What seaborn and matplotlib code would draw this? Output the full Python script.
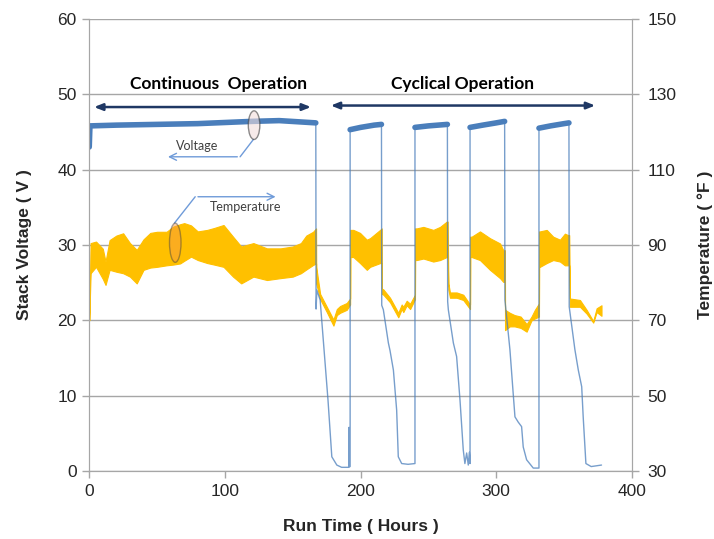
import matplotlib
matplotlib.use("Agg")
import matplotlib.pyplot as plt
from matplotlib.patches import Ellipse
import seaborn as sns
import numpy as np
import pandas as pd

# stack voltage trace (hours, volts)
volt_t = [0, 0.5, 20, 50, 80, 120, 140, 167.0,
          167.2, 167.8, 170.2, 176.0, 178.8, 182.5, 186.0, 191.4, 191.5, 191.6, 192.3,
          192.3, 200, 210, 215.4,
          215.6, 216.8, 220.5, 221.7, 224.2, 226.6, 227.8, 230.3, 235.0, 240.1,
          240.1, 250, 264.0,
          264.2, 264.7, 268.4, 270.8, 273.3, 275.7, 276.9, 278.2, 279.4, 280.2, 280.7,
          280.7, 290, 300, 306.2,
          306.4, 310.1, 312.5, 313.8, 316.2, 318.7, 319.9, 322.4, 327.3, 331.5,
          331.5, 340, 350, 353.6,
          353.8, 358.0, 360.5, 363.0, 364.1, 366.1, 370.0, 377.6]
volt_v = [43.0, 45.8, 45.9, 46.0, 46.1, 46.4, 46.5, 46.2,
          21.5, 24.0, 22.7, 9.4, 1.9, 0.8, 0.5, 0.5, 5.8, 0.6, 0.6,
          45.3, 45.6, 45.9, 46.0,
          22.0, 21.4, 17.0, 16.0, 13.4, 8.1, 1.9, 1.0, 0.9, 1.0,
          45.6, 45.8, 46.0,
          22.5, 21.4, 17.0, 15.2, 9.4, 2.8, 1.0, 2.4, 0.8, 2.5, 1.0,
          45.6, 45.9, 46.2, 46.4,
          22.7, 16.1, 10.3, 7.2, 6.5, 5.9, 3.2, 1.5, 0.4, 0.4,
          45.5, 45.8, 46.1, 46.2,
          21.8, 16.1, 13.4, 11.2, 7.2, 1.0, 0.6, 0.8]

# temperature envelope (hours, deg F low / high)
temp_t = [0, 1, 5, 10, 12, 15, 20, 25, 30, 35, 40, 45, 50, 57, 62, 67, 70, 75, 80, 87,
          92, 99, 106, 112, 121, 131, 141, 150, 156, 160, 165, 167.2,
          167.3, 170.2, 175.1, 180.0, 182.5, 184.9, 189.8, 192.3,
          192.4, 194.7, 199.6, 204.6, 207.0, 214.4, 215.6,
          215.7, 216.8, 221.7, 227.8, 230.3, 231.5, 234.0, 236.5, 240.1,
          240.2, 241.4, 246.3, 253.6, 258.6, 263.5, 264.2,
          264.7, 265.9, 270.8, 275.7, 280.7,
          280.8, 281.9, 288.0, 295.4, 302.8, 305.2, 306.4,
          306.5, 310.0, 313.5, 318.0, 322.4, 326.0, 328.5, 331.5,
          331.6, 332.2, 337.2, 342.0, 347.0, 350.6, 353.1, 353.8,
          354.3, 361.7, 366.6, 371.5, 374.0, 377.6]
temp_lo = [70, 82.5, 84.2, 81.0, 79.4, 83.4, 82.9, 82.5, 81.6, 79.8, 83.4, 84.0, 84.2, 84.6,
           84.8, 85.1, 85.8, 86.9, 86.0, 85.2, 84.8, 84.2, 81.6, 79.8, 81.6, 80.7, 81.2,
           81.6, 82.5, 83.5, 84.7, 85.1,
           79.8, 75.6, 72.2, 68.6, 71.4, 72.0, 72.8, 74.2,
           86.8, 86.8, 85.2, 83.4, 84.2, 85.2, 85.2,
           77.0, 76.8, 74.8, 70.8, 73.0, 72.2, 74.0, 73.0, 75.6,
           86.0, 86.0, 86.4, 85.6, 86.0, 86.8, 86.8,
           78.2, 76.0, 76.0, 75.4, 73.0,
           86.8, 86.8, 86.0, 83.4, 81.2, 80.2, 80.2,
           67.4, 68.4, 68.4, 68.0, 67.0, 70.0, 70.5, 71.0,
           84.2, 84.2, 85.2, 86.0, 85.6, 84.6, 84.6, 84.6,
           73.6, 73.6, 71.8, 69.4, 72.2, 71.2]
temp_hi = [70, 90.5, 90.9, 89.0, 85.6, 91.3, 92.5, 93.1, 90.5, 88.7, 91.5, 93.2, 93.5, 93.5,
           94.9, 95.5, 95.8, 95.2, 93.6, 94.0, 94.5, 95.3, 92.2, 89.6, 90.5, 89.1, 89.1,
           89.6, 90.5, 92.5, 93.5, 94.4,
           84.2, 77.0, 73.6, 70.2, 73.0, 73.8, 74.6, 75.8,
           94.0, 94.0, 93.2, 91.4, 91.8, 94.0, 94.4,
           78.4, 78.2, 76.0, 72.0, 74.2, 73.6, 75.2, 74.4, 76.8,
           94.4, 94.4, 94.8, 94.0, 94.8, 96.2, 96.2,
           79.8, 77.4, 77.4, 76.8, 74.2,
           92.2, 92.2, 93.6, 91.8, 90.4, 88.6, 88.6,
           72.8, 72.0, 71.4, 71.0, 69.0, 71.0, 72.8, 74.5,
           93.6, 93.6, 94.0, 92.2, 91.4, 93.0, 92.6, 92.6,
           75.8, 75.4, 72.8, 69.8, 73.2, 74.0]

x_ticks = [0, 100, 200, 300, 400]
volt_ticks = [0, 10, 20, 30, 40, 50, 60]
temp_ticks = [30, 50, 70, 90, 110, 130, 150]

BLUE = "#4a7ebb"
GOLD = "#ffc000"
NAVY = "#1f3864"
ARROW = "#6f9bd9"
GRID = "#a6a6a6"
TXT = "#262626"

sns.set_style("white")
plt.rcParams["font.family"] = ["Liberation Sans", "DejaVu Sans"]

df = pd.DataFrame({"hours": volt_t, "volts": volt_v})
df["plateau"] = df["volts"] > 40
df["seg"] = (df["plateau"] != df["plateau"].shift()).cumsum()

fig, ax1 = plt.subplots(figsize=(7.14, 5.39), dpi=100)
fig.subplots_adjust(left=0.125, right=0.885, top=0.965, bottom=0.126)
ax2 = ax1.twinx()
ax1.set_zorder(2)
ax2.set_zorder(1)
ax1.patch.set_visible(False)

# temperature band on the right axis
ax2.fill_between(temp_t, temp_lo, temp_hi, color=GOLD, linewidth=0.8, edgecolor=GOLD)
ax2.set_ylim(30, 150)
ax2.set_yticks(temp_ticks)
ax2.yaxis.grid(True, color=GRID, linewidth=1)
ax2.set_axisbelow(True)

# voltage trace
sns.lineplot(data=df, x="hours", y="volts", sort=False, estimator=None,
             color=BLUE, linewidth=1.0, alpha=0.75, ax=ax1)
for _, seg in df[df["plateau"]].groupby("seg"):
    sns.lineplot(data=seg, x="hours", y="volts", sort=False, estimator=None,
                 color=BLUE, linewidth=4.0, ax=ax1)

ax1.set_xlim(0, 400)
ax1.set_ylim(0, 60)
ax1.set_xticks(x_ticks)
ax1.set_yticks(volt_ticks)

for ax in (ax1, ax2):
    for s in ax.spines.values():
        s.set_color(GRID)
    ax.spines["top"].set_visible(False)
    ax.tick_params(length=5, width=1, color=GRID, labelsize=12.5, labelcolor=TXT)
ax1.tick_params(axis="both", direction="out", pad=4)
ax1.tick_params(axis="y", left=True)
ax1.tick_params(axis="x", bottom=True)
ax2.tick_params(axis="y", right=True, direction="out", pad=6)

ax1.set_xlabel("Run Time ( Hours )", fontsize=12.5, fontweight="bold", color=TXT, labelpad=15)
ax1.set_ylabel("Stack Voltage ( V )", fontsize=12.5, fontweight="bold", color=TXT, labelpad=18)
ax2.set_ylabel("Temperature ( \u00b0F )", fontsize=12.5, fontweight="bold", color=TXT, labelpad=15)

# phase annotations
head_font = dict(fontsize=12.5, fontweight="bold", color="black", ha="center", va="center",
                 family=["Lato", "DejaVu Sans"])
ax1.text(95, 51.4, "Continuous  Operation", **head_font)
ax1.text(275, 51.4, "Cyclical Operation", **head_font)
ax1.annotate("", xy=(1.5, 48.3), xytext=(165.5, 48.3),
             arrowprops=dict(arrowstyle="<|-|>,head_length=0.5,head_width=0.2",
                             color=NAVY, lw=1.8))
ax1.annotate("", xy=(176, 48.5), xytext=(375, 48.5),
             arrowprops=dict(arrowstyle="<|-|>,head_length=0.5,head_width=0.2",
                             color=NAVY, lw=1.8))

# callouts
ax1.add_patch(Ellipse((121.5, 45.9), 8.5, 3.8, facecolor="#f2dcdb", alpha=0.6,
                      edgecolor="#404040", lw=1.0, zorder=5))
ax1.add_patch(Ellipse((63.4, 30.3), 8.5, 5.2, facecolor="#f79646", alpha=0.45,
                      edgecolor="#404040", lw=1.0, zorder=5))
ax1.plot([121.0, 111.2], [44.0, 41.7], color=ARROW, lw=1.0)
ax1.annotate("", xy=(56, 41.7), xytext=(111.2, 41.7),
             arrowprops=dict(arrowstyle="->,head_length=0.5,head_width=0.25",
                             color=ARROW, lw=1.0))
ax1.plot([62.8, 78.1], [32.9, 36.4], color=ARROW, lw=1.0)
ax1.annotate("", xy=(139.4, 36.4), xytext=(78.1, 36.4),
             arrowprops=dict(arrowstyle="->,head_length=0.5,head_width=0.25",
                             color=ARROW, lw=1.0))
small_font = dict(fontsize=9, color="#404040", ha="center", va="center",
                  family=["Lato", "DejaVu Sans"])
ax1.text(79.5, 43.1, "Voltage", **small_font)
ax1.text(115, 35.1, "Temperature", **small_font)

fig.savefig("out.png", dpi=100)
